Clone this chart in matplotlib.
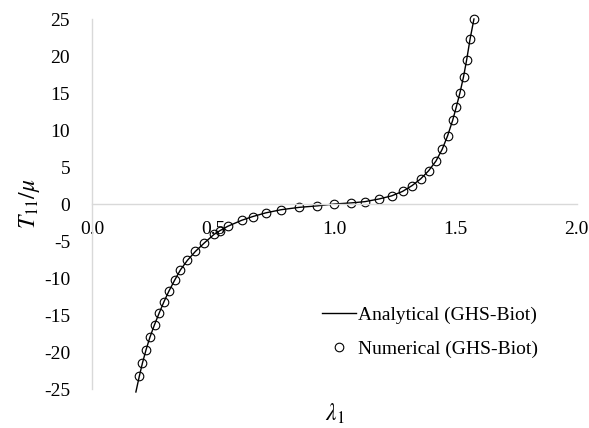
import matplotlib.pyplot as plt

plt.rcParams['font.family'] = ['Liberation Serif', 'DejaVu Serif']
plt.rcParams['mathtext.fontset'] = 'stix'
plt.rcParams['axes.unicode_minus'] = False

# values
lam_num = [0.194, 0.207, 0.222, 0.238, 0.257, 0.276, 0.296, 0.316, 0.340, 0.364,
           0.393, 0.426, 0.463, 0.503, 0.527, 0.560, 0.617, 0.662, 0.716, 0.780,
           0.855, 0.929, 0.999, 1.070, 1.126, 1.184, 1.236, 1.281, 1.321, 1.356,
           1.389, 1.419, 1.445, 1.467, 1.488, 1.503, 1.518, 1.533, 1.546, 1.560, 1.576]
t_num = [-23.3, -21.5, -19.7, -18.0, -16.3, -14.75, -13.2, -11.8, -10.3, -8.9,
         -7.6, -6.4, -5.25, -4.1, -3.6, -3.0, -2.2, -1.7, -1.2, -0.77,
         -0.45, -0.25, 0.0, 0.15, 0.32, 0.68, 1.1, 1.7, 2.5, 3.4,
         4.5, 5.8, 7.4, 9.2, 11.3, 13.1, 15.0, 17.2, 19.5, 22.3, 25.0]

lam_ana = [0.180] + lam_num
t_ana = [-25.4] + t_num

x_ticks = [0.0, 0.5, 1.0, 1.5, 2.0]
y_ticks = [-25, -20, -15, -10, -5, 0, 5, 10, 15, 20, 25]

fig = plt.figure(figsize=(5.89, 4.28), dpi=100)
ax = fig.add_axes([0.1567, 0.0911, 0.8223, 0.8645])

ax.plot(lam_ana, t_ana, color='black', lw=1.0, clip_on=False,
        label='Analytical (GHS-Biot)')
ax.plot(lam_num, t_num, ls='none', marker='o', ms=6.2, mfc='none', mec='black',
        mew=0.8, clip_on=False, label='Numerical (GHS-Biot)')

ax.set_xlim(0, 2)
ax.set_ylim(-25, 25)
ax.set_xticks(x_ticks)
ax.set_xticklabels([f'{v:.1f}' for v in x_ticks])
ax.set_yticks(y_ticks)

for s in ['top', 'right']:
    ax.spines[s].set_visible(False)
ax.spines['bottom'].set_position(('data', 0))
ax.spines['left'].set_position(('data', 0))
for s in ['bottom', 'left']:
    ax.spines[s].set_color('#d9d9d9')
    ax.spines[s].set_linewidth(1.0)

ax.tick_params(axis='both', length=0, labelsize=14, colors='black')
ax.tick_params(axis='x', pad=12)
ax.tick_params(axis='y', pad=16)

ax.set_ylabel(r'$T_{11}/\mu$', fontsize=17, labelpad=1)
fig.text(0.5687, 0.033, r'$\lambda_1$', fontsize=17, ha='center', va='center')

leg = ax.legend(loc='upper left', bbox_to_anchor=(0.546, 0.284),
                bbox_transform=fig.transFigure, frameon=False, fontsize=14,
                handlelength=1.75, handletextpad=0.1, labelspacing=0.85,
                borderpad=0, borderaxespad=0)

fig.savefig('out.png', dpi=100)
